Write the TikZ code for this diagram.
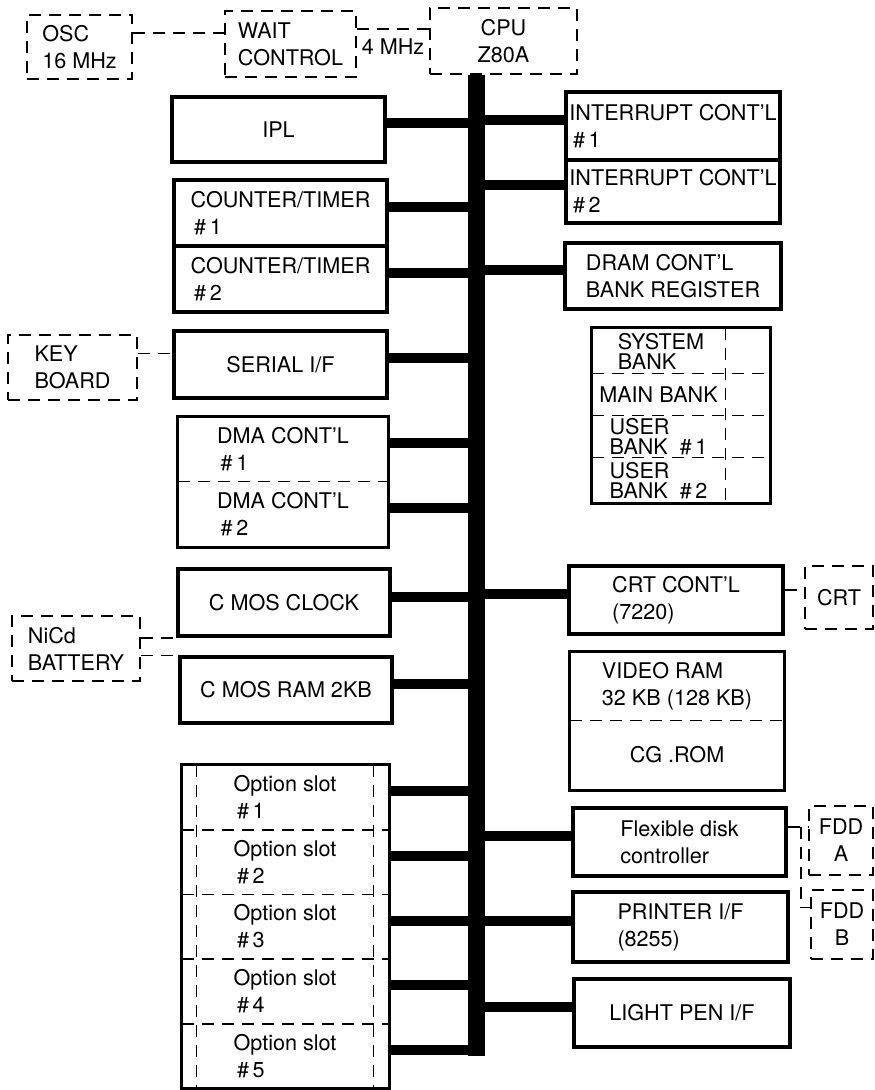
\documentclass[tikz,border=0pt]{standalone}
\usepackage{fontspec}
\setmainfont{TeX Gyre Heros}
\begin{document}
\begin{tikzpicture}[x = 0.5pt, y = -0.5pt,
	font = \fontsize{10.8}{13.5}\selectfont,
	blk/.style = {draw, line width = 1.7pt, inner sep = 1pt, align = left},
	cell/.style = {inner sep = 1pt, align = left},
	extbox/.style = {draw, dash pattern = on 6pt off 4pt, line width = 0.8pt, inner sep = 1pt, align = left},
	dsh/.style = {dash pattern = on 6pt off 4pt, line width = 0.8pt},
	outline/.style = {line width = 1.7pt},
	stub/.style = {line width = 5pt},
	bus/.style = {line width = 8.5pt}]
	\useasboundingbox (0,0) rectangle (874,1090);
	\node[extbox, minimum width = 52.5pt, minimum height = 32pt] (osc) at (79.5,47) {OSC\\16 MHz};
	\node[extbox, minimum width = 65.5pt, minimum height = 33pt] (wait) at (290.5,44) {WAIT\\CONTROL};
	\node[extbox, align = center, minimum width = 73.5pt, minimum height = 33pt] (cpu) at (503.5,41) {CPU\\Z80A};
	\node[blk, minimum width = 106.5pt, minimum height = 32.5pt] (ipl) at (278.5,129.5) {IPL};
	\node[blk, minimum width = 106.5pt, minimum height = 33pt] (ct1) at (280.5,213) {COUNTER/TIMER\\\,\#\,1};
	\node[blk, minimum width = 106.5pt, minimum height = 33pt] (ct2) at (280.5,279) {COUNTER/TIMER\\\,\#\,2};
	\node[extbox, minimum width = 64.5pt, minimum height = 32.5pt] (kb) at (72.5,367.5) {KEY\\BOARD};
	\node[blk, minimum width = 106.5pt, minimum height = 33.5pt] (ser) at (280.5,364.5) {SERIAL I/F};
	\node[cell, minimum width = 105pt, minimum height = 32pt] (dma1) at (283,449) {DMA CONT'L\\\,\#\,1};
	\node[cell, minimum width = 105pt, minimum height = 33pt] (dma2) at (283,514) {DMA CONT'L\\\,\#\,2};
	\draw[outline] (dma1.north west) rectangle (dma2.south east);
	\draw[dsh] (dma1.south west) -- (dma1.south east);
	\node[blk, minimum width = 106pt, minimum height = 33.5pt] (clk) at (284,602.5) {C MOS CLOCK};
	\node[extbox, minimum width = 64pt, minimum height = 32.5pt] (bat) at (76,648.5) {NiCd\\BATTERY};
	\node[blk, minimum width = 106pt, minimum height = 33pt] (ram) at (286,690) {C MOS RAM 2KB};
	\foreach \i in {1,...,5}
		\node[cell, minimum width = 88pt, minimum height = 32.3pt] (opt\i) at (285,732.7+64.6*\i) {Option slot\\\,\#\,\i};
	\draw[outline] ([xshift = -7.5pt]opt1.north west) rectangle ([xshift = 8pt]opt5.south east);
	\draw[dsh] (opt1.north west) -- (opt5.south west);
	\draw[dsh] (opt1.north east) -- (opt5.south east);
	\foreach \i in {1,...,4}
		\draw[dsh] ([xshift = -7.5pt]opt\i.south west) -- ([xshift = 8pt]opt\i.south east);
	\node[blk, minimum width = 107pt, minimum height = 34pt] (int1) at (673,126) {INTERRUPT CONT'L\\\,\#\,1};
	\node[blk, minimum width = 107pt, minimum height = 31.5pt] (int2) at (673,191.5) {INTERRUPT CONT'L\\\,\#\,2};
	\node[blk, minimum width = 108pt, minimum height = 33pt] (dram) at (673,276) {DRAM CONT'L\\BANK REGISTER};
	\begin{scope}[font = \fontsize{10.8}{10}\selectfont]
		\node[cell, minimum width = 66.5pt, minimum height = 23pt] (sys) at (661,351) {SYSTEM\\BANK};
		\node[cell, minimum width = 66.5pt, minimum height = 21pt] (main) at (658.5,395) {MAIN BANK};
		\node[cell, minimum width = 66.5pt, minimum height = 21pt] (usr1) at (658.5,437) {USER\\BANK\ \ \#\,1};
		\node[cell, minimum width = 66.5pt, minimum height = 22.5pt] (usr2) at (658.5,480.5) {USER\\BANK\ \ \#\,2};
	\end{scope}
	\draw[outline] (main.north west |- sys.north) rectangle ([xshift = 22.5pt]usr2.south east);
	\draw[dsh] (main.east |- sys.north) -- (usr2.south east);
	\foreach \nm in {main, usr1, usr2}
		\draw[dsh] (\nm.north west) -- ([xshift = 22.5pt]\nm.north east);
	\node[blk, minimum width = 107pt, minimum height = 34pt] (crtc) at (676,600) {CRT CONT'L\\(7220)};
	\node[extbox, align = center, minimum width = 34pt, minimum height = 31.5pt] (crt) at (839,597.5) {CRT};
	\node[cell, minimum width = 107pt, minimum height = 34pt] (vram) at (677,686) {VIDEO RAM\\32 KB (128 KB)};
	\node[cell, minimum width = 107pt, minimum height = 35pt] (cg) at (677,755) {CG .ROM};
	\draw[outline] (vram.north west) rectangle (cg.south east);
	\draw[dsh] (vram.south west) -- (vram.south east);
	\node[blk, minimum width = 106.5pt, minimum height = 34pt] (fdc) at (679.5,842) {Flexible disk\\controller};
	\node[extbox, align = center, minimum width = 32pt, minimum height = 34.5pt] (fdda) at (841,840.5) {FDD\\A};
	\node[blk, minimum width = 107.5pt, minimum height = 35pt] (prt) at (680.5,927) {PRINTER I/F\\(8255)};
	\node[extbox, align = center, minimum width = 31pt, minimum height = 34.5pt] (fddb) at (842,924.5) {FDD\\B};
	\node[blk, minimum width = 108pt, minimum height = 34pt] (lpen) at (682,1013) {LIGHT PEN I/F};
	\coordinate (bt) at ([xshift = -13.75pt]cpu.south);
	\coordinate (bb) at (476,1056);
	\draw[bus] (bt) -- (bb);
	\foreach \nm in {ipl, ct1, ct2, ser, dma1, dma2, clk, ram}
		\draw[stub] ([yshift = 3pt]\nm.east) coordinate (s) -- (s -| bt);
	\foreach \nm in {int1, int2, dram, crtc, fdc, prt, lpen}
		\draw[stub] ([yshift = 3pt]\nm.west) coordinate (s) -- (s -| bt);
	\foreach \i in {1,...,5}
		\draw[stub] ([xshift = 8pt, yshift = 3pt]opt\i.east) coordinate (s) -- (s -| bt);
	\draw[dsh] ([yshift = 7pt]osc.east) coordinate (c) -- (c -| wait.west);
	\draw[dsh] ([yshift = 7.5pt]wait.east) coordinate (c) -- (c -| cpu.west) node[midway, below = 1pt] (mhz) {4 MHz};
	\draw[dsh] ([yshift = 7pt]kb.east) coordinate (c) -- (c -| ser.west);
	\draw[dsh] (bat.east |- clk.south west) -- (clk.south west);
	\draw[dsh] (bat.east |- ram.north west) -- (ram.north west);
	\draw[dsh] ([yshift = 5pt]crtc.east) coordinate (c) -- (c -| crt.west);
	\draw[dsh] ([yshift = 7.5pt]fdc.east) coordinate (c) -- (c -| fdda.west);
	\draw[dsh] ([xshift = 6.5pt]c) |- ([yshift = 8.5pt]fddb.west);
\end{tikzpicture}
\end{document}
